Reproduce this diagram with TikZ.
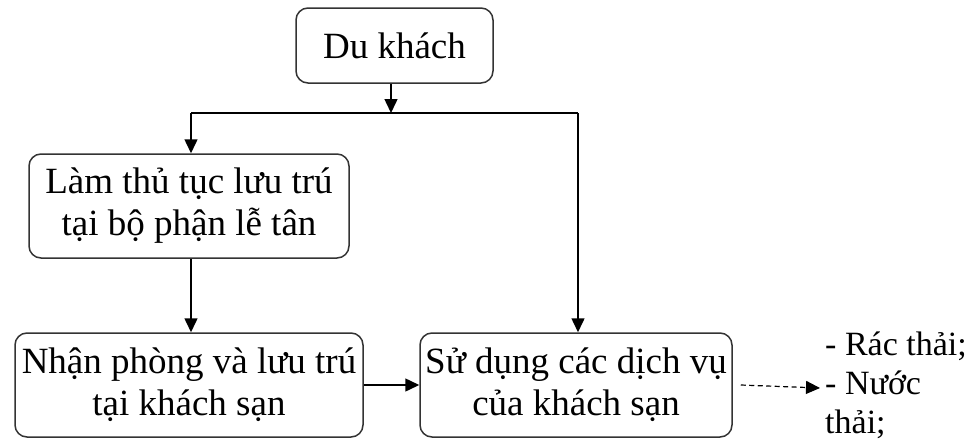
\documentclass[tikz,border=0pt]{standalone}
\usepackage{fontspec}
\setmainfont{Liberation Serif}
\usetikzlibrary{arrows.meta}
\begin{document}
\begin{tikzpicture}[x=1pt,y=-1pt,
  box/.style={draw=black!80, line width=1.5pt, rounded corners=12pt, align=center,
    inner sep=0pt, font=\fontsize{37}{42}\selectfont},
  conn/.style={line width=1.5pt, -{Triangle[length=14pt,width=13pt]}},
  plain/.style={line width=1.5pt}]
\useasboundingbox (0,0) rectangle (974,439);
\node[box, minimum width=197pt, minimum height=75pt] (dk) at (394.5,45.5) {Du khách};
\node[box, minimum width=320pt, minimum height=104pt] (lt) at (189,206) {Làm thủ tục lưu trú\\tại bộ phận lễ tân};
\node[box, minimum width=348pt, minimum height=104pt] (np) at (189,385) {Nhận phòng và lưu trú\\tại khách sạn};
\node[box, minimum width=312pt, minimum height=104pt] (sd) at (576,385) {Sử dụng các dịch vụ\\của khách sạn};
\node[anchor=west, align=left, inner sep=0pt, font=\fontsize{34}{39}\selectfont] (out) at (825,385) {- Rác thải;\\- Nước\\thải;};
\coordinate (j) at (391,113);
\coordinate (jl) at (191,113);
\coordinate (jr) at (578,113);
\coordinate (dend) at (820,388);
\draw[conn] (dk.south -| j) -- (j);
\draw[plain] (jl) -- (jr);
\draw[conn] (jl) -- (lt.north -| jl);
\draw[conn] (jr) -- (sd.north -| jr);
\draw[conn] (lt.south -| jl) -- (np.north -| jl);
\draw[conn] (np.east) -- (sd.west);
\draw[line width=1.2pt, dash pattern=on 5pt off 3.5pt, -{Triangle[length=14pt,width=13pt]}] (sd.east)++(8,0) -- (dend);
\end{tikzpicture}
\end{document}
